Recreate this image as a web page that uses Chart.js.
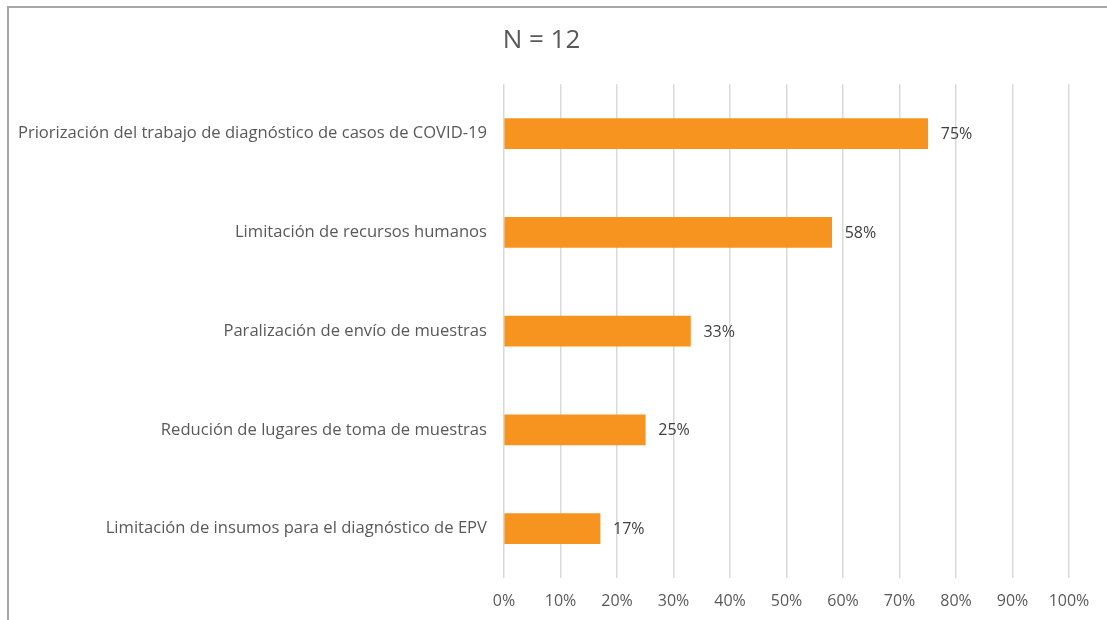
<!DOCTYPE html>
<html lang="es">
<head>
<meta charset="utf-8">
<title>N = 12</title>
<script src="https://cdn.jsdelivr.net/npm/chart.js@4.4.0/dist/chart.umd.min.js"></script>
<style>
  html, body { margin: 0; padding: 0; background: #fff; overflow: hidden; }
  #wrap { position: relative; width: 1107px; height: 620px; }
  /* marco gris del gráfico (solo borde izquierdo y superior visibles) */
  #marco {
    position: absolute; left: 7px; top: 6px; width: 1200px; height: 700px;
    border-left: 2px solid #a6a6a6; border-top: 2px solid #a6a6a6;
  }
  #grafico { position: absolute; left: 0; top: 0; }
</style>
</head>
<body>
<div id="wrap">
  <div id="marco"></div>
  <canvas id="grafico" width="1107" height="620"></canvas>
</div>
<script>
// Datos del gráfico
const categorias = [
  'Priorización del trabajo de diagnóstico de casos de COVID-19',
  'Limitación de recursos humanos',
  'Paralización de envío de muestras',
  'Redución de lugares de toma de muestras',
  'Limitación de insumos para el diagnóstico de EPV'
];
const porcentajes = [75, 58, 33, 25, 17];
const titulo = 'N = 12';

const fuente = '"Open Sans", Lato, sans-serif';

// Escribe el porcentaje al final de cada barra
const etiquetasBarras = {
  id: 'etiquetasBarras',
  afterDatasetsDraw(chart) {
    const ctx = chart.ctx;
    const meta = chart.getDatasetMeta(0);
    ctx.save();
    ctx.font = '16px ' + fuente;
    ctx.fillStyle = '#404040';
    ctx.textAlign = 'left';
    ctx.textBaseline = 'middle';
    meta.data.forEach((barra, i) => {
      ctx.fillText(porcentajes[i] + '%', barra.x + 13, barra.y + 1);
    });
    ctx.restore();
  }
};

const ctx = document.getElementById('grafico').getContext('2d');
new Chart(ctx, {
  type: 'bar',
  data: {
    labels: categorias,
    datasets: [{
      data: porcentajes,
      backgroundColor: '#f7931f',
      borderWidth: 0,
      barThickness: 30
    }]
  },
  options: {
    indexAxis: 'y',
    responsive: false,
    animation: false,
    layout: { padding: { left: 14, right: 38, top: 25, bottom: 0 } },
    plugins: {
      legend: { display: false },
      tooltip: { enabled: false },
      title: {
        display: true,
        text: titulo,
        color: '#595959',
        font: { family: fuente, size: 26, weight: 'normal' },
        padding: { top: 0, bottom: 28 }
      }
    },
    scales: {
      x: {
        min: 0,
        max: 100,
        ticks: {
          stepSize: 10,
          padding: 14,
          color: '#595959',
          font: { family: fuente, size: 16 },
          callback: v => v + '%'
        },
        grid: { color: '#d9d9d9', lineWidth: 1.5, drawTicks: false },
        border: { display: false },
        afterFit: s => { s.height = 42; }
      },
      y: {
        ticks: {
          padding: 17,
          color: '#595959',
          font: { family: fuente, size: 16.6 }
        },
        grid: { display: false, drawTicks: false },
        border: { display: false },
        afterFit: s => { s.width = 490; }
      }
    }
  },
  plugins: [etiquetasBarras]
});
</script>
</body>
</html>
